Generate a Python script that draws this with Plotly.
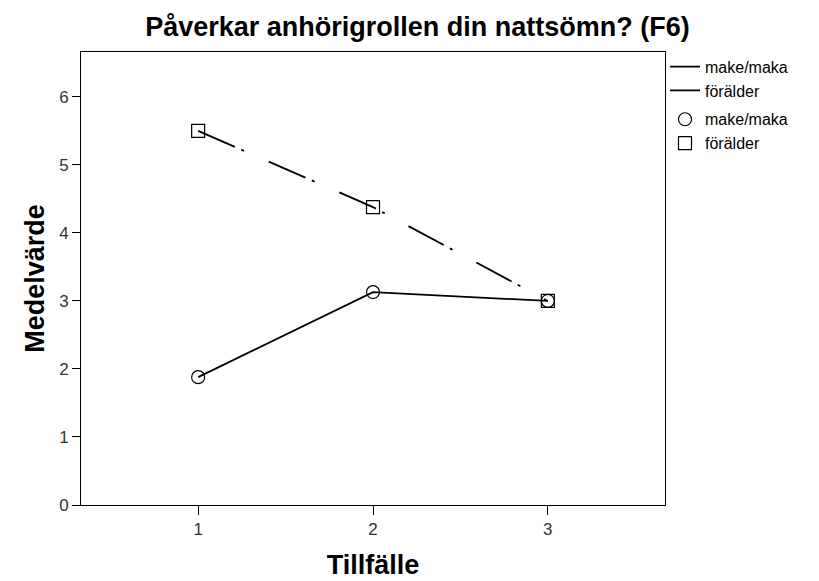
import plotly.graph_objects as go

tillfalle = [1, 2, 3]
make_maka = [1.88, 3.13, 3.0]
foralder = [5.5, 4.38, 3.0]
y_ticks = [0, 1, 2, 3, 4, 5, 6]
x_ticks = [1, 2, 3]

fig = go.Figure()
font = "Liberation Sans, Arial, sans-serif"

fig.add_trace(go.Scatter(x=tillfalle, y=make_maka, mode="lines", name="make/maka",
                         line=dict(color="black", width=1.8), legendgroup="l"))
fig.add_trace(go.Scatter(x=tillfalle, y=foralder, mode="lines", name="förälder",
                         line=dict(color="black", width=1.8, dash="40px,7px,3px,27px"), legendgroup="l"))
fig.add_trace(go.Scatter(x=tillfalle, y=make_maka, mode="markers", name="make/maka",
                         marker=dict(symbol="circle-open", size=13, color="black", line=dict(width=1.2)),
                         legendgroup="m"))
fig.add_trace(go.Scatter(x=tillfalle, y=foralder, mode="markers", name="förälder",
                         marker=dict(symbol="square-open", size=13, color="black", line=dict(width=1.2)),
                         legendgroup="m"))

fig.update_layout(
    width=819, height=581,
    margin=dict(l=73, r=162, t=44, b=84),
    paper_bgcolor="white", plot_bgcolor="white",
    font=dict(family=font, color="black"),
    title=dict(text="<b>Påverkar anhörigrollen din nattsömn? (F6)</b>", x=0.5, xanchor="center",
               y=0.968, yanchor="middle", font=dict(size=27, family=font, color="black")),
    legend=dict(x=1.0, xanchor="left", y=1.005, yanchor="top", font=dict(size=16, family=font),
                traceorder="grouped", tracegroupgap=5, itemwidth=30,
                bgcolor="rgba(0,0,0,0)", borderwidth=0),
    showlegend=True,
    xaxis=dict(range=[0.33, 3.67], tickvals=x_ticks, ticks="outside", ticklen=9, tickwidth=1,
               tickcolor="black", showgrid=False, zeroline=False, showline=True, linecolor="black",
               linewidth=1, mirror=True,
               tickfont=dict(size=17, color="#333333"),
               title=dict(text="<b>Tillfälle</b>", font=dict(size=27), standoff=16)),
    yaxis=dict(range=[0, 6.66], tickvals=y_ticks, ticks="outside", ticklen=8, tickwidth=1,
               tickcolor="black", showgrid=False, zeroline=False, showline=True, linecolor="black",
               linewidth=1, mirror=True,
               tickfont=dict(size=17, color="#333333"),
               title=dict(text="<b>Medelvärde</b>", font=dict(size=27), standoff=6)),
)

fig.write_html("out.html")
